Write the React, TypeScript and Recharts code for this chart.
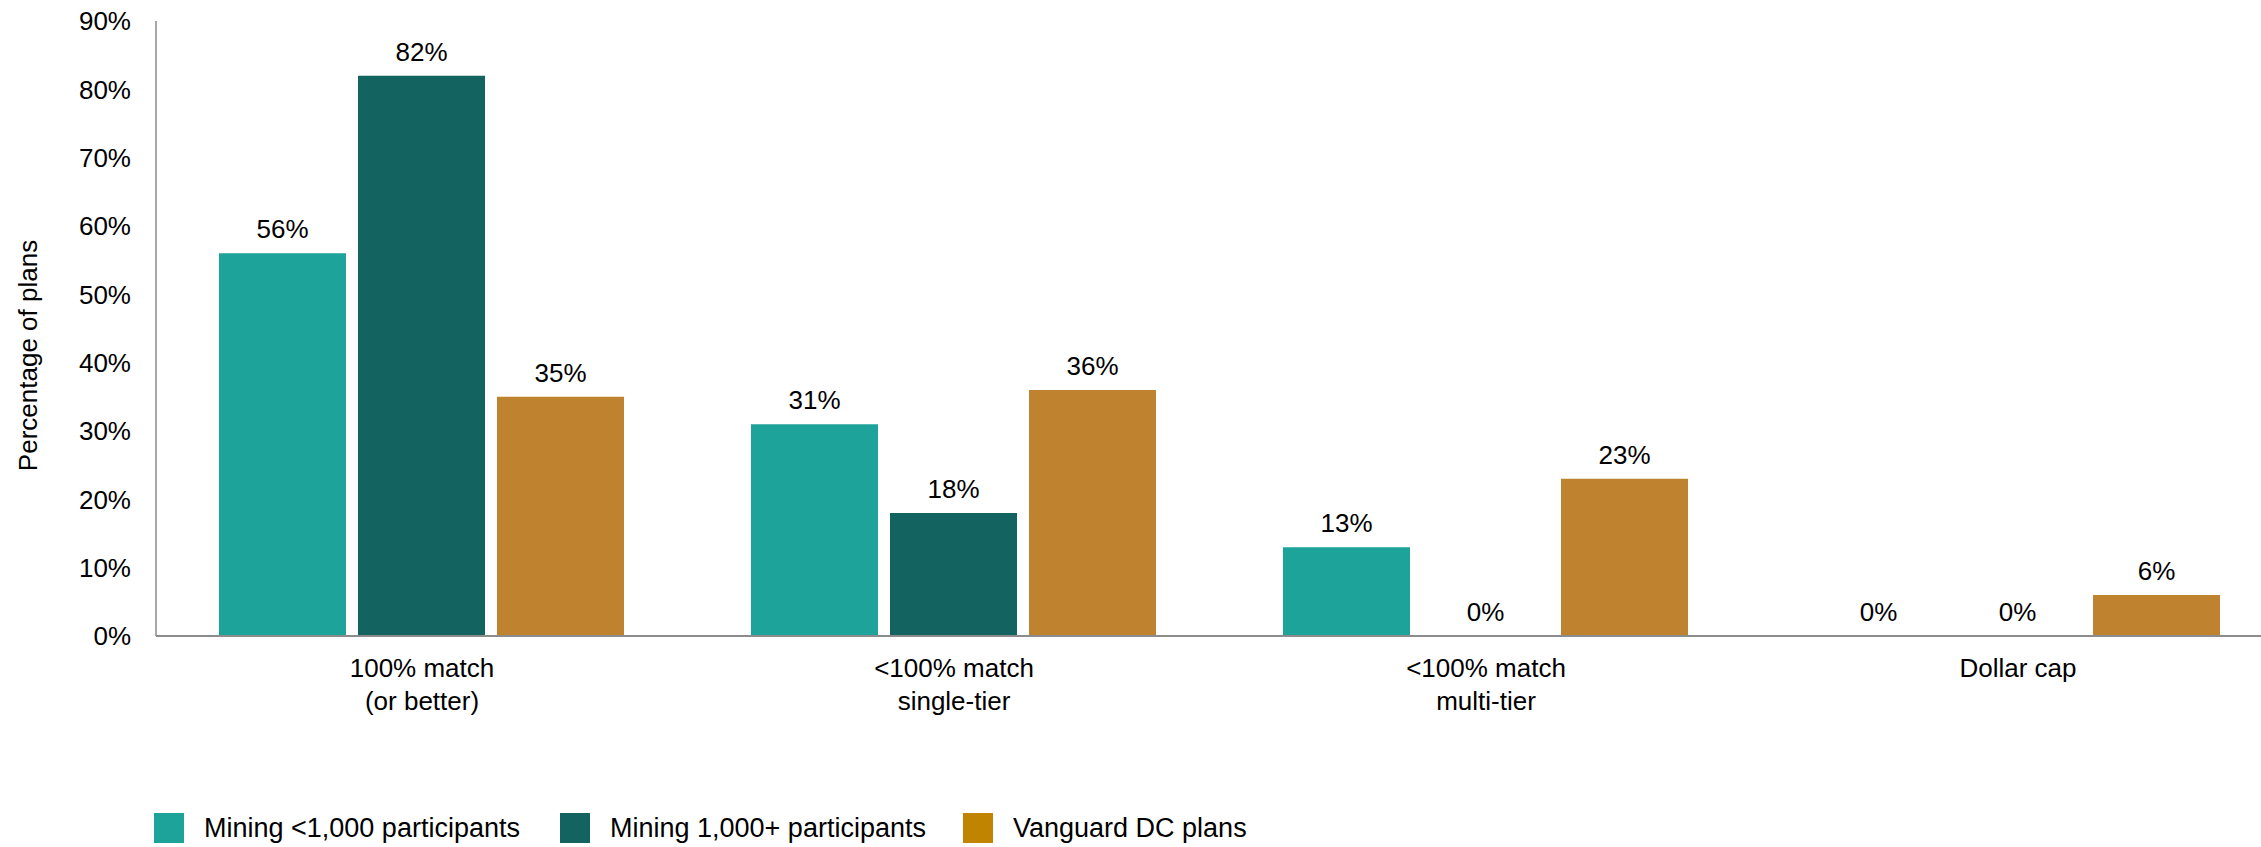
import React from 'react';
import { BarChart, Bar, XAxis, YAxis, LabelList, Legend } from 'recharts';

const categories = ['100% match|(or better)', '<100% match|single-tier', '<100% match|multi-tier', 'Dollar cap'];
const miningSmall = [56, 31, 13, 0];
const miningLarge = [82, 18, 0, 0];
const vanguardDC = [35, 36, 23, 6];
const yTicks = [0, 10, 20, 30, 40, 50, 60, 70, 80, 90];

const SERIES = [
  { key: 'small', name: 'Mining <1,000 participants', color: '#1DA39A', legendColor: '#1DA39A', legendX: 154 },
  { key: 'large', name: 'Mining 1,000+ participants', color: '#136460', legendColor: '#136460', legendX: 560 },
  { key: 'dc', name: 'Vanguard DC plans', color: '#BF822E', legendColor: '#C08400', legendX: 963 },
];

const data = categories.map((c, i) => ({
  category: c,
  small: miningSmall[i],
  large: miningLarge[i],
  dc: vanguardDC[i],
}));

const FONT = 'Liberation Sans, Arial, sans-serif';

const CategoryTick = ({ x, y, payload }: any) => {
  const lines = String(payload.value).split('|');
  return (
    <text x={x} y={y} textAnchor="middle" fill="#000" fontSize={26} fontFamily={FONT}>
      {lines.map((l, i) => (
        <tspan key={i} x={x} dy={33}>{l}</tspan>
      ))}
    </text>
  );
};

// draws the value above the bar, also for 0% bars
const ValueLabel = (props: any) => {
  const { x, y, width, height, value } = props;
  const top = Math.min(y, y + height);
  return (
    <text x={x + width / 2} y={top - 15} textAnchor="middle" fill="#000" fontSize={26} fontFamily={FONT}>
      {`${value}%`}
    </text>
  );
};

const YLabel = ({ viewBox }: any) => {
  const cx = 37;
  const cy = viewBox.y + viewBox.height / 2 + 27;
  return (
    <text
      x={cx}
      y={cy}
      transform={`rotate(-90, ${cx}, ${cy})`}
      textAnchor="middle"
      fill="#000"
      fontSize={26}
      fontFamily={FONT}
    >
      Percentage of plans
    </text>
  );
};

const LegendContent = () => (
  <div style={{ height: 81, position: 'relative', fontFamily: FONT, fontSize: 27, color: '#000' }}>
    {SERIES.map((s) => (
      <div key={s.key} style={{ position: 'absolute', left: s.legendX, top: 47, display: 'flex', alignItems: 'center', whiteSpace: 'nowrap' }}>
        <div style={{ width: 30, height: 30, background: s.legendColor, marginRight: 20 }} />
        <span style={{ lineHeight: '30px' }}>{s.name}</span>
      </div>
    ))}
  </div>
);

export default function App() {
  return (
    <div style={{ position: 'absolute', left: 0, top: 0, width: 2261, height: 847, overflow: 'hidden' }}>
      <BarChart
        width={2261}
        height={847}
        data={data}
        margin={{ top: 21, right: -23, bottom: 0, left: 0 }}
        barGap={12}
        barCategoryGap={63}
      >
        <XAxis
          dataKey="category"
          tick={<CategoryTick />}
          tickLine={false}
          axisLine={{ stroke: '#8c8c8c', strokeWidth: 2 }}
          height={130}
          interval={0}
        />
        <YAxis
          domain={[0, 90]}
          ticks={yTicks}
          tickFormatter={(v: number) => `${v}%`}
          tick={{ fill: '#000', fontSize: 26, fontFamily: FONT }}
          tickLine={false}
          tickSize={6}
          tickMargin={19}
          axisLine={{ stroke: '#8c8c8c', strokeWidth: 1.5 }}
          width={156}
          label={<YLabel />}
        />
        <Legend verticalAlign="bottom" content={<LegendContent />} />
        {SERIES.map((s) => (
          <Bar
            key={s.key}
            dataKey={s.key}
            name={s.name}
            fill={s.color}
            minPointSize={(v: number) => (v === 0 ? 0.01 : 0)}
            isAnimationActive={false}
          >
            <LabelList dataKey={s.key} content={<ValueLabel />} />
          </Bar>
        ))}
      </BarChart>
    </div>
  );
}
